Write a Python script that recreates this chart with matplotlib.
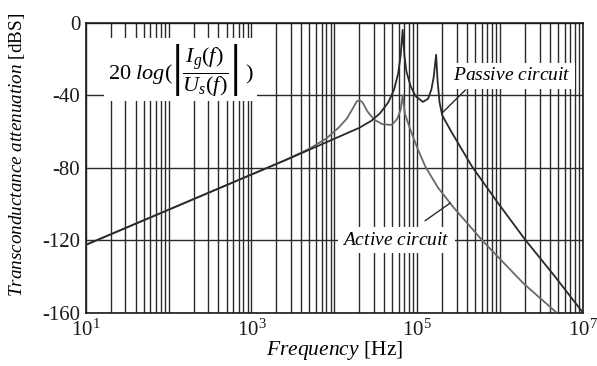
import numpy as np
import matplotlib
matplotlib.use('Agg')
from matplotlib import pyplot as plt
from matplotlib.ticker import LogLocator, FixedLocator, NullFormatter

# fonts: Times-like serif everywhere, mathtext too
plt.rcParams['font.family'] = 'Liberation Serif'
plt.rcParams['mathtext.fontset'] = 'custom'
plt.rcParams['mathtext.rm'] = 'Liberation Serif'
plt.rcParams['mathtext.it'] = 'Liberation Serif:italic'

# data (frequency in Hz, attenuation in dBS)
passive_freq = [10, 3000, 2.0e4, 2.82e4, 3.55e4, 4.47e4, 5.25e4, 5.89e4, 6.31e4, 6.67e4,
                7.0e4, 7.41e4, 8.32e4, 9.55e4, 1.17e5, 1.35e5, 1.48e5, 1.58e5, 1.69e5,
                1.76e5, 1.86e5, 2.0e5, 2.51e5, 3.31e5, 4.59e5, 9.2e5, 2.02e6, 4.44e6, 9.77e6]
passive_db = [-122.6, -74.5, -58.0, -54.0, -50.0, -44.0, -37.0, -28.0, -18.0, -4.0,
              -18.0, -27.0, -35.0, -40.5, -43.7, -42.0, -37.0, -30.0, -17.7,
              -32.0, -44.0, -51.0, -59.2, -68.5, -79.4, -98.8, -119.9, -139.2, -159.4]

active_freq = [10, 2.51e3, 5.0e3, 7.94e3, 1.12e4, 1.41e4, 1.66e4, 1.86e4, 2.0e4, 2.19e4,
               2.51e4, 3.02e4, 3.8e4, 4.95e4, 5.75e4, 6.31e4, 6.67e4, 7.08e4, 8.26e4,
               1.0e5, 1.25e5, 1.78e5, 2.75e5, 6.34e5, 1.93e6, 4.66e6]
active_db = [-122.6, -76.0, -69.5, -64.0, -58.0, -53.0, -47.5, -43.5, -42.6, -44.0,
             -49.0, -53.5, -56.0, -56.4, -53.0, -48.0, -40.0, -50.0, -59.0,
             -69.0, -79.3, -91.0, -102.0, -121.0, -144.0, -159.4]

# leader lines from the labels to the curves
passive_leader_freq = [3.8e5, 2.07e5]
passive_leader_db = [-37.2, -49.1]
active_leader_freq = [1.25e5, 2.5e5]
active_leader_db = [-109.2, -99.5]

y_ticks = [0, -40, -80, -120, -160]
x_ticks = [1e1, 1e3, 1e5, 1e7]

fig = plt.figure(figsize=(5.97, 3.66), dpi=100)
ax = fig.add_axes([0.1436, 0.1456, 0.8329, 0.7924])

ax.plot(active_freq, active_db, color='#6a6a6a', lw=1.3, zorder=3)
ax.plot(passive_freq, passive_db, color='#2a2a2a', lw=1.3, zorder=3)
ax.plot(passive_leader_freq, passive_leader_db, color='#2a2a2a', lw=1.0, zorder=3)
ax.plot(active_leader_freq, active_leader_db, color='#2a2a2a', lw=1.0, zorder=3)

ax.set_xscale('log')
ax.set_xlim(1e1, 1e7)
ax.set_ylim(-160, 0)

# grid: every 1..9 x decade, every 40 dB
ax.xaxis.set_major_locator(FixedLocator(x_ticks))
ax.xaxis.set_minor_locator(LogLocator(base=10, subs=np.arange(1, 10)))
ax.xaxis.set_minor_formatter(NullFormatter())
ax.set_yticks(y_ticks)
ax.set_yticklabels([str(v) for v in y_ticks])
ax.grid(True, which='both', axis='x', color='#2a2a2a', lw=1.0)
ax.grid(True, which='major', axis='y', color='#2a2a2a', lw=1.0)
ax.tick_params(which='both', length=0, labelsize=15, colors='#1a1a1a')
ax.tick_params(axis='x', pad=5)
ax.tick_params(axis='y', pad=4)
for s in ax.spines.values():
    s.set_color('#1a1a1a')
    s.set_linewidth(1.2)

ax.set_xlabel(r'$\mathit{Frequency}$ [Hz]', fontsize=15.5, labelpad=-1)
ax.set_ylabel(r'$\mathit{Transconductance\ attenuation}$ [dBS]', fontsize=13.8)
ax.yaxis.set_label_coords(-0.118, 0.545)

# labels with white boxes that cut the grid
white = dict(boxstyle='square,pad=0.25', fc='white', ec='none')
ax.text(141, -26, r'$20\ \mathit{log}(\left|\dfrac{I_g(f)}{U_s(f)}\right|\ )$', fontsize=16,
        ha='center', va='center', bbox=dict(boxstyle='square,pad=0.15', fc='white', ec='none'), zorder=4)
ax.text(1.37e6, -29.4, r'$\mathit{Passive\ circuit}$', fontsize=14,
        ha='center', va='center', bbox=white, zorder=4)
ax.text(5.6e4, -119.9, r'$\mathit{Active\ circuit}$', fontsize=14,
        ha='center', va='center', bbox=white, zorder=4)

fig.savefig('out.png', dpi=100)
